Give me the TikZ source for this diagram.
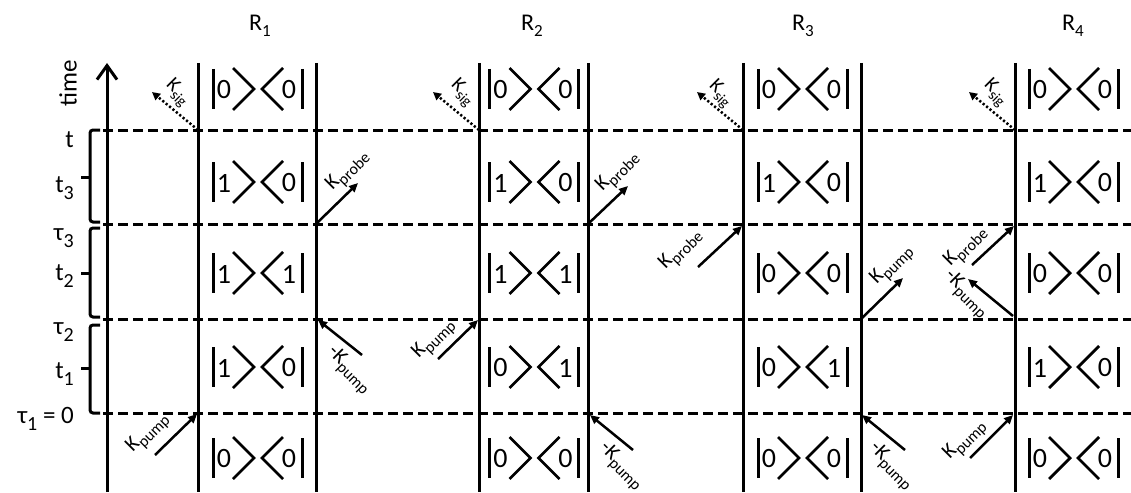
\documentclass[tikz,border=0pt]{standalone}
\usepackage{fontspec}
\setmainfont{Carlito}
\usetikzlibrary{arrows.meta}
\newcommand{\setfs}[1]{\fontsize{#1}{#1}\selectfont}
\newcommand{\lowtext}[3]{\raisebox{-#1}{\setfs{#2}#3}}
% density-matrix element |a><b| centred at (x,y)
\newcommand{\densmat}[5]{%
  \begin{scope}[shift={(#2,#3)}]
    \draw[ketbar] (-44,-20) -- (-44,20);
    \draw[ketbar] (45,-20) -- (45,20);
    \draw[chevron] (-24,-21) -- (-3,0) -- (-24,21);
    \draw[chevron] (26,-21) -- (5,0) -- (26,21);
    \node[digit] (#1-ket) at (-33,1) {#4};
    \node[digit] (#1-bra) at (32,1) {#5};
  \end{scope}}
\newcommand{\kwave}[1]{K\lowtext{5pt}{16}{#1}}
\newcommand{\ksig}{K\lowtext{5pt}{15}{sig}}
\begin{document}
\begin{tikzpicture}[x=1pt,y=-1pt,
  grid/.style={line width=3pt},
  timeline/.style={line width=3pt,dash pattern=on 10pt off 5pt},
  ketbar/.style={line width=3pt},
  chevron/.style={line width=2.8pt},
  digit/.style={inner sep=0pt,font=\setfs{28}},
  beam/.style={line width=2.5pt,-{Triangle[length=9pt,width=8pt]}},
  sigbeam/.style={line width=2.5pt,dash pattern=on 2.2pt off 2.2pt,-{Triangle[length=8pt,width=8pt]}},
  klabel/.style={inner sep=0pt,font=\setfs{21}},
  slabel/.style={inner sep=0pt,font=\setfs{20}},
  axlabel/.style={inner sep=0pt,font=\setfs{25}},
  rlabel/.style={inner sep=0pt,font=\setfs{24}}]
\useasboundingbox (0,0) rectangle (1131,492);

% time axis and interval brackets
\draw[grid,-{Straight Barb[length=14pt,width=20pt]}] (107,492) -- (107,63);
\node[axlabel,rotate=90] (time) at (68,83) {time};
\foreach \top/\bot/\mid in {130/222/177, 228/317/273, 325/413/368}{
  \draw[grid,rounded corners=3pt] (100,\top) -- (90,\top) -- (90,\bot) -- (100,\bot);
  \draw[grid] (90,\mid) -- (81,\mid);
}
\node[axlabel,anchor=east] (lt)  at (74,140) {t};
\node[axlabel,anchor=east] (lt3) at (74,188.5) {t\lowtext{7pt}{20}{3}};
\node[axlabel,anchor=east] (lT3) at (74,238) {τ\lowtext{7pt}{20}{3}};
\node[axlabel,anchor=east] (lt2) at (74,276) {t\lowtext{7pt}{20}{2}};
\node[axlabel,anchor=east] (lT2) at (74,332.5) {τ\lowtext{7pt}{20}{2}};
\node[axlabel,anchor=east] (lt1) at (74,374) {t\lowtext{7pt}{20}{1}};
\node[axlabel,anchor=east] (lT1) at (74,418.5) {τ\lowtext{7pt}{20}{1} = 0};

% time slices
\foreach \yy in {130,224,319,413}
  \draw[timeline] (103,\yy) -- (1131,\yy);

% interaction lines
\foreach \xx in {198,316,479,588,743,861,1015}
  \draw[grid] (\xx,63) -- (\xx,492);

% column titles
\node[rlabel] (R1) at (260,25.5) {R\lowtext{6pt}{17}{1}};
\node[rlabel] (R2) at (532,25.5) {R\lowtext{6pt}{17}{2}};
\node[rlabel] (R3) at (803,25.5) {R\lowtext{6pt}{17}{3}};
\node[rlabel] (R4) at (1073,25.5) {R\lowtext{6pt}{17}{4}};

% density-matrix states
\densmat{a1}{257}{89}{0}{0}
\densmat{a2}{257}{182}{1}{0}
\densmat{a3}{257}{273}{1}{1}
\densmat{a4}{257}{367}{1}{0}
\densmat{a5}{257}{458}{0}{0}
\densmat{b1}{533.5}{89}{0}{0}
\densmat{b2}{533.5}{182}{1}{0}
\densmat{b3}{533.5}{273}{1}{1}
\densmat{b4}{533.5}{367}{0}{1}
\densmat{b5}{533.5}{458}{0}{0}
\densmat{c1}{802}{89}{0}{0}
\densmat{c2}{802}{182}{1}{0}
\densmat{c3}{802}{273}{0}{0}
\densmat{c4}{802}{367}{0}{1}
\densmat{c5}{802}{458}{0}{0}
\densmat{d1}{1073}{89}{0}{0}
\densmat{d2}{1073}{182}{1}{0}
\densmat{d3}{1073}{273}{0}{0}
\densmat{d4}{1073}{367}{1}{0}
\densmat{d5}{1073}{458}{0}{0}

% vertices and free ends of the field lines
\coordinate (sigA1) at (198,130);  \coordinate (sigB1) at (152,92);
\coordinate (sigA2) at (479,130);  \coordinate (sigB2) at (433,92);
\coordinate (sigA3) at (743,130);  \coordinate (sigB3) at (697,92);
\coordinate (sigA4) at (1015,130); \coordinate (sigB4) at (969,92);

\coordinate (pumpA1) at (155,455); \coordinate (pumpB1) at (197,414);
\coordinate (pumpA2) at (438,359); \coordinate (pumpB2) at (478,320);
\coordinate (pumpA3) at (861,319); \coordinate (pumpB3) at (903,278);
\coordinate (pumpA4) at (970,458); \coordinate (pumpB4) at (1013,415);

\coordinate (probeA1) at (316,224); \coordinate (probeB1) at (358,183);
\coordinate (probeA2) at (588,224); \coordinate (probeB2) at (628,186);
\coordinate (probeA3) at (698,267); \coordinate (probeB3) at (742,226);
\coordinate (probeA4) at (972,265); \coordinate (probeB4) at (1014,226);

\coordinate (mpumpA1) at (362,355);  \coordinate (mpumpB1) at (318,320);
\coordinate (mpumpA2) at (633,450);  \coordinate (mpumpB2) at (590,415);
\coordinate (mpumpA3) at (905,450);  \coordinate (mpumpB3) at (862,415);
\coordinate (mpumpA4) at (1013,316); \coordinate (mpumpB4) at (968,279);

\foreach \i in {1,2,3,4}{
  \draw[sigbeam] (sigA\i) -- (sigB\i);
  \draw[beam] (pumpA\i) -- (pumpB\i);
  \draw[beam] (probeA\i) -- (probeB\i);
  \draw[beam] (mpumpA\i) -- (mpumpB\i);
}

% field labels
\node[slabel,rotate=-45] (ls1) at (177,93) {\ksig};
\node[slabel,rotate=-45] (ls2) at (462,93) {\ksig};
\node[slabel,rotate=-45] (ls3) at (720,94) {\ksig};
\node[slabel,rotate=-45] (ls4) at (995,93) {\ksig};

\node[klabel,rotate=45] (lpr1) at (348,171) {\kwave{probe}};
\node[klabel,rotate=45] (lpr2) at (618,172) {\kwave{probe}};
\node[klabel,rotate=45] (lpr3) at (681,250) {\kwave{probe}};
\node[klabel,rotate=45] (lpr4) at (966,247) {\kwave{probe}};

\node[klabel,rotate=45] (lpu1) at (148,433) {\kwave{pump}};
\node[klabel,rotate=45] (lpu2) at (434,339) {\kwave{pump}};
\node[klabel,rotate=45] (lpu3) at (892,265) {\kwave{pump}};
\node[klabel,rotate=45] (lpu4) at (965,440) {\kwave{pump}};

\node[klabel,rotate=-45] (lmp1) at (349,370) {-\kwave{pump}};
\node[klabel,rotate=-45] (lmp2) at (621,466) {-\kwave{pump}};
\node[klabel,rotate=-45] (lmp3) at (891,466) {-\kwave{pump}};
\node[klabel,rotate=-45] (lmp4) at (966,294) {-\kwave{pump}};
\end{tikzpicture}
\end{document}
